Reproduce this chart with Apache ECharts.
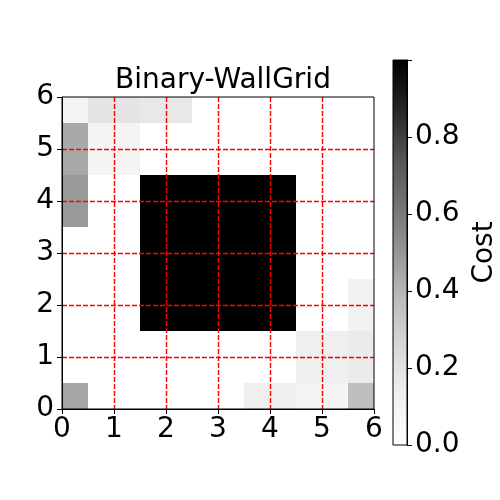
<!DOCTYPE html>
<html>
<head>
<meta charset="utf-8">
<script src="https://cdn.jsdelivr.net/npm/echarts@6/dist/echarts.min.js"></script>
<style>html,body{margin:0;padding:0;background:#fff;}#c{width:500px;height:500px;}</style>
</head>
<body>
<div id="c"></div>
<script>
// Cost grid, rows listed from bottom (y = 0) to top (y = 6), 12 columns each (cell size 0.5)
const cellSize = 0.5;
const costRows = [
  [0.45, 0, 0, 0, 0, 0, 0, 0.13, 0.13, 0.09, 0.09, 0.37],
  [0, 0, 0, 0, 0, 0, 0, 0, 0, 0.13, 0.13, 0.15],
  [0, 0, 0, 0, 0, 0, 0, 0, 0, 0.13, 0.13, 0.15],
  [0, 0, 0, 1, 1, 1, 1, 1, 1, 0, 0, 0.11],
  [0, 0, 0, 1, 1, 1, 1, 1, 1, 0, 0, 0.11],
  [0, 0, 0, 1, 1, 1, 1, 1, 1, 0, 0, 0],
  [0, 0, 0, 1, 1, 1, 1, 1, 1, 0, 0, 0],
  [0.49, 0, 0, 1, 1, 1, 1, 1, 1, 0, 0, 0],
  [0.49, 0, 0, 1, 1, 1, 1, 1, 1, 0, 0, 0],
  [0.44, 0.09, 0.09, 0, 0, 0, 0, 0, 0, 0, 0, 0],
  [0.44, 0.09, 0.09, 0, 0, 0, 0, 0, 0, 0, 0, 0],
  [0.1, 0.19, 0.19, 0.17, 0.17, 0, 0, 0, 0, 0, 0, 0]
];
const axisTicks = [0, 1, 2, 3, 4, 5, 6];
const colorbarTicks = [0.0, 0.2, 0.4, 0.6, 0.8];
const greys = ['#ffffff','#f0f0f0','#d9d9d9','#bdbdbd','#969696','#737373','#525252','#252525','#000000'];
const titleText = 'Binary-WallGrid';
const cbarLabel = 'Cost';

const cells = [];
costRows.forEach((row, r) => row.forEach((v, c) => cells.push([c * cellSize, r * cellSize, v])));

const font = 'DejaVu Sans';
const fs = 28;
const chart = echarts.init(document.getElementById('c'), null, {renderer: 'canvas'});
const gradStops = greys.map((col, i) => ({offset: 1 - i / (greys.length - 1), color: col}));
const axMin = axisTicks[0], axMax = axisTicks[axisTicks.length - 1];
const plotRect = {left: 62, top: 97, width: 312, height: 312};
function redDash() {
  return {show: true, showMinLine: false, showMaxLine: false, lineStyle: {color: '#ff0000', type: [5, 2], width: 1.4}};
}

chart.setOption({
  backgroundColor: '#fff',
  animation: false,
  title: {
    text: titleText, left: 218, top: 62, textAlign: 'center',
    textStyle: {fontFamily: font, fontSize: fs, fontWeight: 'normal', color: '#000'}
  },
  grid: [
    Object.assign({show: false, z: 0}, plotRect),
    {left: 393, top: 60, width: 19, height: 385, show: true, borderColor: '#000', borderWidth: 1, backgroundColor: 'transparent', z: 12},
    Object.assign({show: true, borderColor: '#000', borderWidth: 1, backgroundColor: 'transparent', z: 12}, plotRect)
  ],
  visualMap: {
    show: false, seriesIndex: 0, dimension: 2, min: 0, max: 1,
    inRange: {color: greys}
  },
  xAxis: [
    {type: 'value', gridIndex: 0, min: axMin, max: axMax, show: false, splitLine: {show: false}},
    {type: 'category', gridIndex: 1, data: [''], show: false},
    {
      type: 'value', gridIndex: 2, min: axMin, max: axMax, interval: 1, z: 10,
      axisLine: {show: true, lineStyle: {color: '#000', width: 1}},
      axisTick: {show: true, length: 5, lineStyle: {color: '#000'}},
      axisLabel: {fontFamily: font, fontSize: fs, color: '#000', margin: 7},
      splitLine: redDash()
    }
  ],
  yAxis: [
    {type: 'value', gridIndex: 0, min: axMin, max: axMax, show: false, splitLine: {show: false}},
    {
      type: 'value', gridIndex: 1, position: 'right', min: 0, max: 1, interval: 0.2, z: 10,
      name: cbarLabel, nameLocation: 'middle', nameRotate: 90, nameGap: 64,
      nameTextStyle: {fontFamily: font, fontSize: fs, color: '#000'},
      axisLine: {show: true, lineStyle: {color: '#000', width: 1}},
      axisTick: {show: true, length: 5, lineStyle: {color: '#000'}},
      axisLabel: {
        fontFamily: font, fontSize: fs, color: '#000', margin: 8,
        formatter: v => colorbarTicks.some(t => Math.abs(t - v) < 1e-9) ? v.toFixed(1) : ''
      },
      splitLine: {show: false}
    },
    {
      type: 'value', gridIndex: 2, min: axMin, max: axMax, interval: 1, z: 10,
      axisLine: {show: true, lineStyle: {color: '#000', width: 1}},
      axisTick: {show: true, length: 5, lineStyle: {color: '#000'}},
      axisLabel: {fontFamily: font, fontSize: fs, color: '#000', margin: 8},
      splitLine: redDash()
    }
  ],
  series: [
    {
      type: 'custom', xAxisIndex: 0, yAxisIndex: 0, data: cells, z: 2,
      encode: {x: 0, y: 1},
      renderItem: function (params, api) {
        const x = api.value(0), y = api.value(1);
        const p0 = api.coord([x, y + cellSize]);
        const p1 = api.coord([x + cellSize, y]);
        return {
          type: 'rect',
          shape: {x: p0[0], y: p0[1], width: p1[0] - p0[0], height: p1[1] - p0[1]},
          style: {fill: api.visual('color')}
        };
      }
    },
    {
      type: 'bar', xAxisIndex: 1, yAxisIndex: 1, data: [1], barWidth: '100%', z: 2,
      itemStyle: {color: new echarts.graphic.LinearGradient(0, 0, 0, 1, gradStops)},
      silent: true
    }
  ]
});
</script>
</body>
</html>
